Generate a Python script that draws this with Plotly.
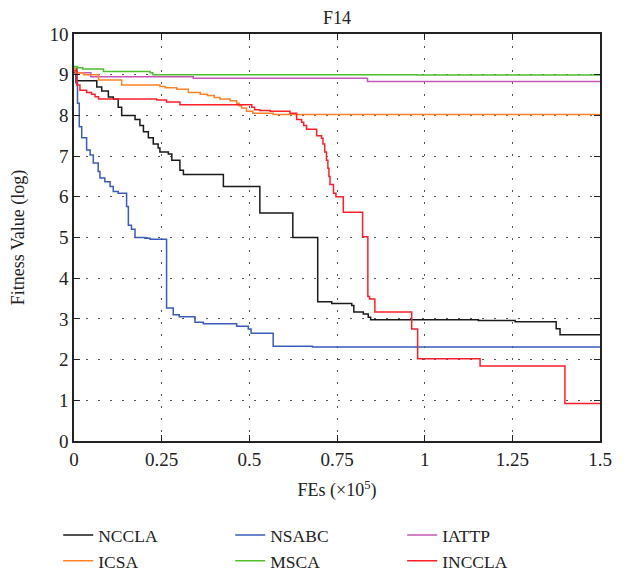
import plotly.graph_objects as go

# ---- data (FEs in units of 1e5, fitness value in log) ----
nccla_x = [0, 0.008, 0.065, 0.079, 0.098, 0.112, 0.126, 0.136, 0.174, 0.188, 0.198, 0.212, 0.226,
           0.24, 0.245, 0.269, 0.279, 0.302, 0.312, 0.426, 0.53, 0.624, 0.695, 0.735, 0.792, 0.798,
           0.825, 0.839, 0.846, 1.153, 1.258, 1.375, 1.386, 1.5]
nccla_y = [9.15, 8.85, 8.7, 8.6, 8.45, 8.4, 8.2, 8.0, 7.9, 7.75, 7.6, 7.45, 7.3,
           7.2, 7.1, 7.05, 6.9, 6.65, 6.55, 6.25, 5.6, 5.0, 3.42, 3.38, 3.33, 3.17,
           3.12, 3.04, 2.98, 2.96, 2.93, 2.76, 2.61, 2.61]

nsabc_x = [0, 0.005, 0.01, 0.015, 0.022, 0.036, 0.046, 0.055, 0.069, 0.074, 0.088, 0.103, 0.112,
           0.126, 0.15, 0.155, 0.164, 0.174, 0.202, 0.217, 0.264, 0.283, 0.30, 0.345, 0.369, 0.464,
           0.497, 0.505, 0.568, 0.68, 1.5]
nsabc_y = [9.05, 8.8, 8.3, 7.72, 7.45, 7.15, 7.03, 6.83, 6.62, 6.46, 6.37, 6.25, 6.13,
           6.09, 5.76, 5.3, 5.2, 5.0, 4.98, 4.96, 3.27, 3.1, 3.05, 2.92, 2.88, 2.82,
           2.75, 2.65, 2.33, 2.31, 2.31]

iattp_x = [0, 0.005, 0.048, 0.34, 0.837, 1.5]
iattp_y = [9.1, 9.05, 8.95, 8.91, 8.83, 8.83]

icsa_x = [0, 0.005, 0.027, 0.07, 0.136, 0.245, 0.26, 0.293, 0.326, 0.36, 0.38, 0.40, 0.416,
          0.445, 0.464, 0.471, 0.478, 0.492, 0.51, 0.568, 1.5]
icsa_y = [9.15, 9.05, 9.0, 8.87, 8.75, 8.71, 8.68, 8.64, 8.56, 8.52, 8.49, 8.44, 8.4,
          8.36, 8.3, 8.24, 8.18, 8.1, 8.05, 8.02, 8.02]

msca_x = [0, 0.01, 0.025, 0.084, 0.217, 0.225, 0.977, 1.5]
msca_y = [9.2, 9.17, 9.14, 9.08, 9.05, 9.0, 8.99, 8.99]

inccla_x = [0, 0.008, 0.017, 0.036, 0.05, 0.06, 0.07, 0.236, 0.264, 0.302, 0.507, 0.515, 0.53,
            0.559, 0.616, 0.635, 0.649, 0.655, 0.663, 0.692, 0.706, 0.71, 0.715, 0.72, 0.724,
            0.727, 0.73, 0.74, 0.747, 0.768, 0.823, 0.838, 0.843, 0.858, 0.963, 0.98, 1.158,
            1.40, 1.5]
inccla_y = [9.1, 8.75, 8.62, 8.56, 8.52, 8.46, 8.4, 8.38, 8.33, 8.26, 8.2, 8.14, 8.12,
            8.1, 8.05, 7.9, 7.83, 7.75, 7.66, 7.5, 7.44, 7.3, 7.1, 6.9, 6.7,
            6.5, 6.3, 6.09, 6.0, 5.62, 5.02, 3.55, 3.49, 3.17, 2.75, 2.02, 1.84,
            0.92, 0.92]

x_ticks = [0, 0.25, 0.5, 0.75, 1, 1.25, 1.5]
x_ticklabels = ["0", "0.25", "0.5", "0.75", "1", "1.25", "1.5"]
y_ticks = list(range(0, 11))

series = [
    ("NCCLA", nccla_x, nccla_y, "#1a1a1a"),
    ("NSABC", nsabc_x, nsabc_y, "#3a5bb8"),
    ("IATTP", iattp_x, iattp_y, "#c657b8"),
    ("ICSA", icsa_x, icsa_y, "#ff8226"),
    ("MSCA", msca_x, msca_y, "#4fbf2c"),
    ("INCCLA", inccla_x, inccla_y, "#ff1f2a"),
]

FONT = "Liberation Serif"

fig = go.Figure()
for name, xs, ys, col in series:
    fig.add_trace(go.Scatter(x=xs, y=ys, name=name, mode="lines",
                             line=dict(color=col, width=1.5, shape="hv")))

fig.update_layout(
    width=625, height=586,
    margin=dict(l=66, r=33, t=26, b=153),
    paper_bgcolor="white", plot_bgcolor="white",
    font=dict(family=FONT, color="#222", size=17),
    title=dict(text="F14", x=(66 + 592) / 2 / 625, xanchor="center",
               y=1 - 10 / 586, yanchor="middle", yref="container",
               font=dict(family=FONT, size=18, color="#222")),
    legend=dict(orientation="h", x=-0.030, xanchor="left", y=-0.187, yanchor="top",
                entrywidth=127, font=dict(family=FONT, size=17.5, color="#222"),
                bgcolor="rgba(0,0,0,0)", tracegroupgap=0),
    showlegend=True,
)

fig.update_xaxes(
    range=[0, 1.5], tickvals=x_ticks, ticktext=x_ticklabels,
    ticks="inside", ticklen=6, tickcolor="#222", tickwidth=1,
    showline=True, linecolor="#222", linewidth=1.5, mirror="ticks",
    showgrid=True, gridcolor="#555", gridwidth=1, griddash="2px,10px",
    zeroline=False, tickfont=dict(family=FONT, size=19, color="#222"),
    automargin=False,
    title=dict(text="FEs (×10<sup>5</sup>)", standoff=15,
               font=dict(family=FONT, size=18, color="#222")),
)
fig.update_yaxes(
    range=[0, 10], tickvals=y_ticks,
    ticks="inside", ticklen=6, tickcolor="#222", tickwidth=1,
    showline=True, linecolor="#222", linewidth=1.5, mirror="ticks",
    showgrid=True, gridcolor="#555", gridwidth=1, griddash="2px,10px",
    zeroline=False, tickfont=dict(family=FONT, size=19, color="#222"),
    automargin=False,
    title=dict(text="Fitness Value (log)", standoff=20,
               font=dict(family=FONT, size=18, color="#222")),
)

fig.write_html("out.html")
